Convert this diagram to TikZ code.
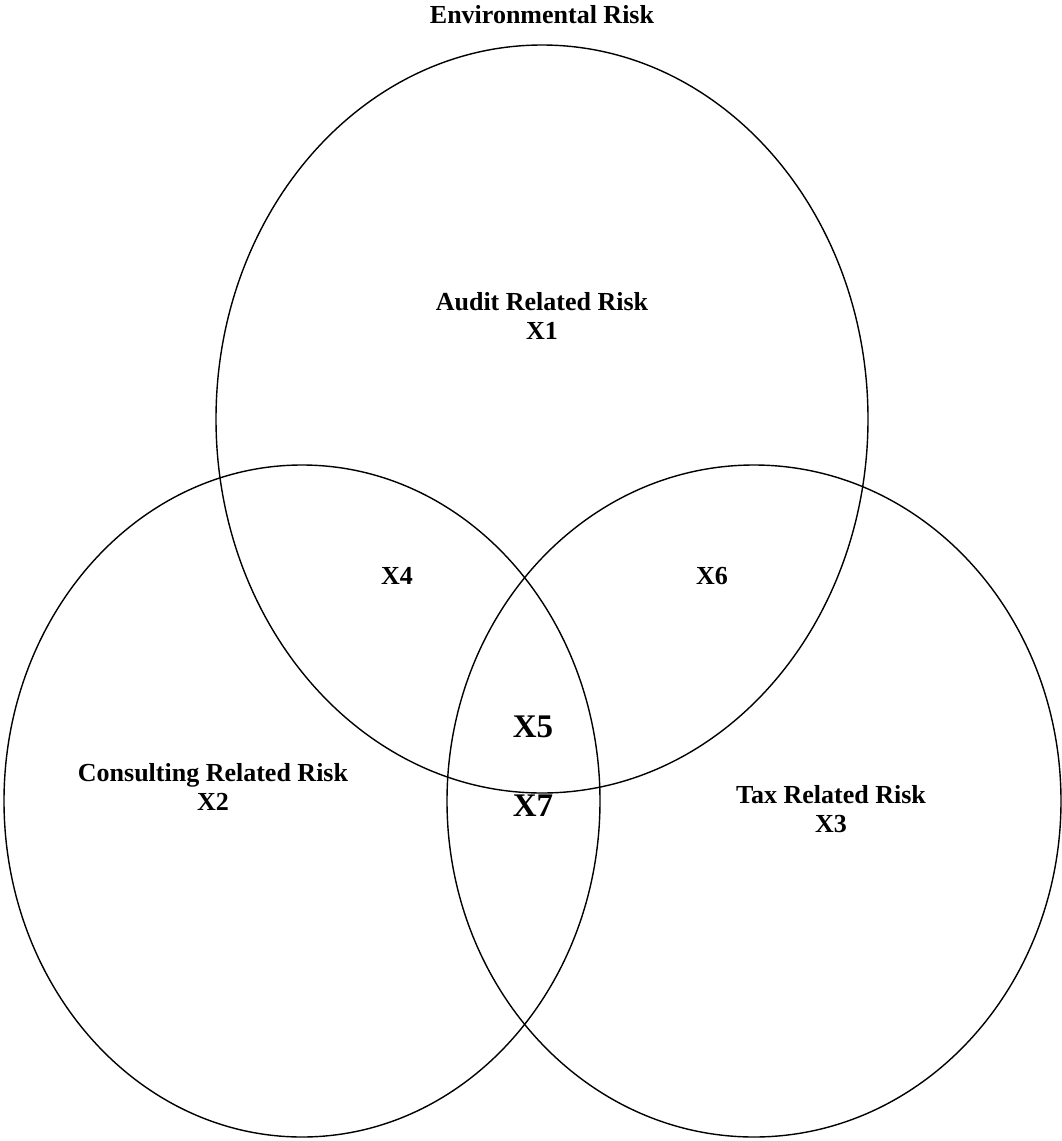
\documentclass[tikz,border=0pt]{standalone}
\usepackage{fontspec}
\setmainfont{Liberation Serif}
\begin{document}
\begin{tikzpicture}[x=1pt,y=-1pt,
  venn/.style={draw=black,line width=1.4pt},
  lbl/.style={font=\fontsize{26}{29}\selectfont\bfseries,align=center,inner sep=0pt},
  biglbl/.style={font=\fontsize{33}{36}\selectfont\bfseries,inner sep=0pt}]
  \useasboundingbox (0,0) rectangle (1062,1141);
  % three overlapping risk areas
  \draw[venn] (542,419) ellipse [x radius=326, y radius=374];
  \draw[venn] (302,801) ellipse [x radius=298, y radius=336];
  \draw[venn] (754,801) ellipse [x radius=307, y radius=336];
  % labels
  \node[lbl] (env) at (542,15) {Environmental Risk};
  \node[lbl] (audit) at (542,316) {Audit Related Risk\\X1};
  \node[lbl] (x4) at (397,576) {X4};
  \node[lbl] (x6) at (712,576) {X6};
  \node[biglbl] (x5) at (533,727) {X5};
  \node[biglbl] (x7) at (533,806) {X7};
  \node[lbl] (cons) at (213,787) {Consulting Related Risk\\X2};
  \node[lbl] (tax) at (831,809) {Tax Related Risk\\X3};
\end{tikzpicture}
\end{document}
